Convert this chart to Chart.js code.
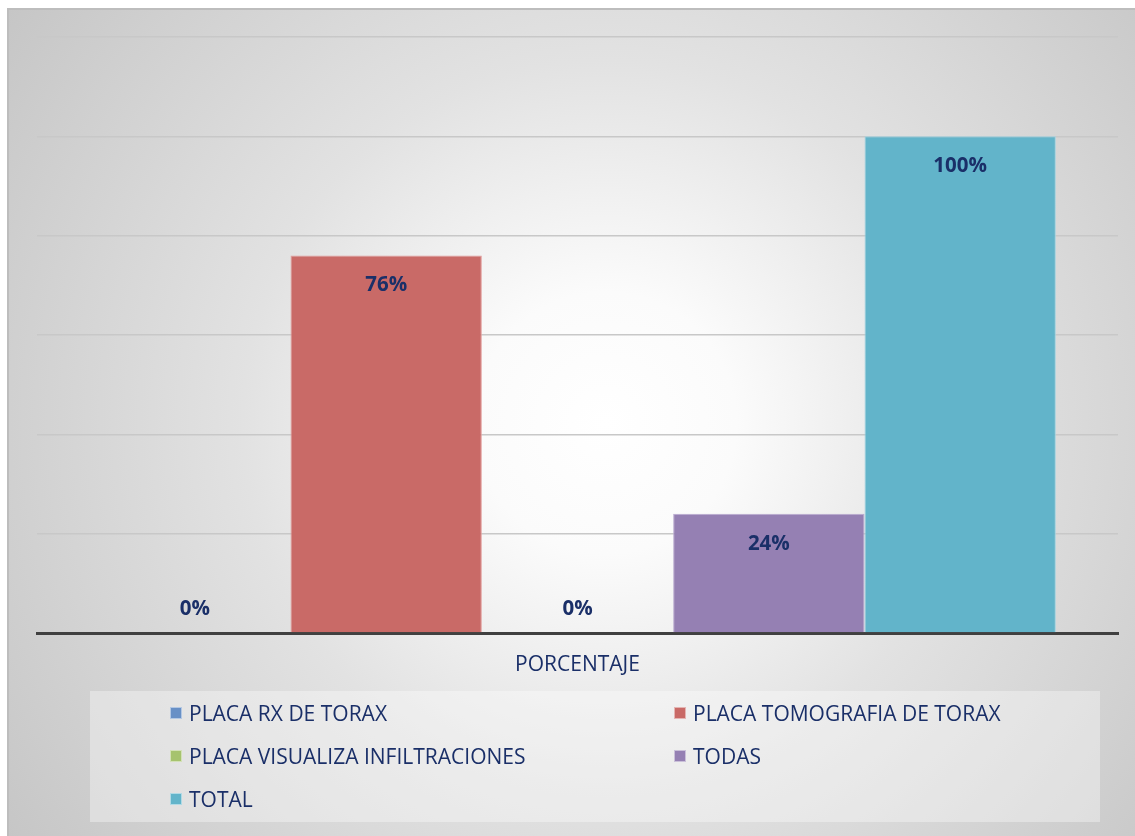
<!DOCTYPE html>
<html lang="es">
<head>
    <meta charset="UTF-8">
    <title>Porcentaje</title>
    <script src="https://cdn.jsdelivr.net/npm/chart.js"></script>
    <style>
        body {
            margin: 0;
            width: 1135px;
            height: 836px;
            background: #fff;
            position: relative;
            overflow: hidden;
            font-family: 'Open Sans', Lato, sans-serif;
        }
        .frame {
            position: absolute;
            left: 7px;
            top: 8px;
            width: 1128px;
            height: 828px;
            box-sizing: border-box;
            border-left: 2px solid #bdbdbd;
            border-top: 2px solid #bdbdbd;
            background: radial-gradient(circle at 53% 50%, #ffffff 0%, #fbfbfb 18%, #e2e2e2 50%, #c6c6c6 100%);
        }
        canvas {
            position: absolute;
            left: 0;
            top: 0;
        }
        .legend {
            position: absolute;
            left: 90px;
            top: 691px;
            width: 1010px;
            height: 131px;
            background: rgba(255,255,255,0.35);
        }
        .legend .item {
            position: absolute;
            display: flex;
            align-items: center;
            height: 26px;
            color: #1a2f68;
            font-size: 21px;
            white-space: nowrap;
        }
        .legend .box {
            width: 12px;
            height: 12px;
            margin-right: 7px;
            box-sizing: border-box;
            border: 1px solid rgba(255,255,255,0.5);
        }
    </style>
</head>
<body>
    <div class="frame"></div>
    <canvas id="chart" width="1135" height="836"></canvas>
    <div class="legend" id="legend"></div>
    <script>
        const categories = ['PORCENTAJE'];
        const seriesNames = ['PLACA RX DE TORAX', 'PLACA TOMOGRAFIA DE TORAX', 'PLACA VISUALIZA INFILTRACIONES', 'TODAS', 'TOTAL'];
        const seriesValues = [0, 76, 0, 24, 100];
        const seriesColors = ['#6890c6', '#c96a67', '#a6c36e', '#9580b3', '#62b4ca'];
        const edgeColors = ['#9ab4dc', '#e29d9b', '#c9dca2', '#b9a9cf', '#9fd3e2'];
        const yTicks = [0, 20, 40, 60, 80, 100, 120];

        const navy = '#1a2f68';
        const fontFamily = "'Open Sans', Lato, sans-serif";

        const datasets = seriesNames.map((name, i) => ({
            label: name,
            data: [seriesValues[i]],
            backgroundColor: seriesColors[i],
            borderColor: edgeColors[i],
            borderWidth: 1,
            categoryPercentage: 0.885,
            barPercentage: 1
        }));

        // value labels: inside the top of the bar, or just above the axis for zeros
        const valueLabels = {
            id: 'valueLabels',
            afterDatasetsDraw(chart) {
                const ctx = chart.ctx;
                ctx.save();
                ctx.font = 'bold 20.5px ' + fontFamily;
                ctx.fillStyle = navy;
                ctx.textAlign = 'center';
                ctx.textBaseline = 'middle';
                chart.data.datasets.forEach((ds, i) => {
                    const bar = chart.getDatasetMeta(i).data[0];
                    const v = ds.data[0];
                    const y = v > 0 ? bar.y + 30 : bar.base - 24;
                    ctx.fillText(v + '%', bar.x, y);
                });
                ctx.restore();
            }
        };

        const chart = new Chart(document.getElementById('chart'), {
            type: 'bar',
            data: { labels: categories, datasets: datasets },
            options: {
                responsive: false,
                animation: false,
                layout: { padding: { left: 37, right: 17, top: 37, bottom: 150 } },
                plugins: {
                    legend: { display: false },
                    tooltip: { enabled: false }
                },
                scales: {
                    x: {
                        grid: { display: false, drawTicks: false },
                        border: { display: true, color: '#404040', width: 3 },
                        ticks: {
                            color: navy,
                            font: { family: fontFamily, size: 21 },
                            padding: 19
                        },
                        afterFit(scale) { scale.height = 53; }
                    },
                    y: {
                        min: yTicks[0],
                        max: yTicks[yTicks.length - 1],
                        afterBuildTicks(scale) { scale.ticks = yTicks.map(v => ({ value: v })); },
                        grid: { color: '#c8c8c8', lineWidth: 1.5, drawTicks: false },
                        border: { display: false },
                        ticks: { display: false },
                        afterFit(scale) { scale.width = 0; }
                    }
                }
            },
            plugins: [valueLabels]
        });

        // legend in two columns, like the original
        const legend = document.getElementById('legend');
        const colX = [80, 584];
        const rowY = [9, 52, 95];
        chart.data.datasets.forEach((ds, i) => {
            const item = document.createElement('div');
            item.className = 'item';
            item.style.left = colX[i % 2] + 'px';
            item.style.top = rowY[Math.floor(i / 2)] + 'px';
            const box = document.createElement('span');
            box.className = 'box';
            box.style.background = ds.backgroundColor;
            const txt = document.createElement('span');
            txt.textContent = ds.label;
            item.appendChild(box);
            item.appendChild(txt);
            legend.appendChild(item);
        });
    </script>
</body>
</html>
